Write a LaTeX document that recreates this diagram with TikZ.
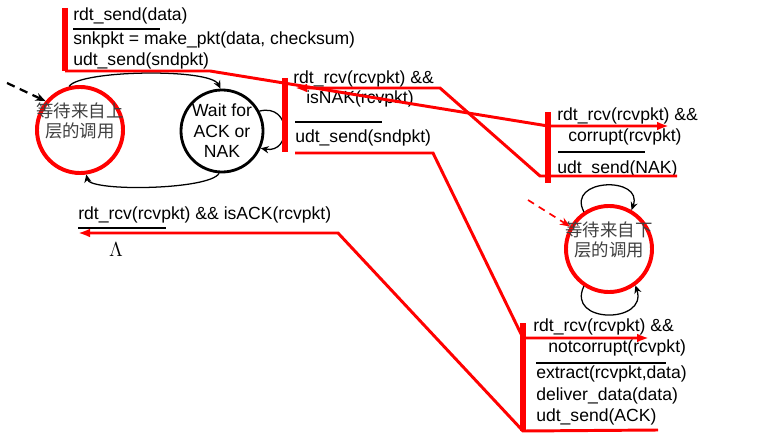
\documentclass[tikz,border=0pt]{standalone}
\usepackage{fontspec}
\setmainfont{Liberation Sans}
\newfontfamily\cjk{Noto Sans CJK SC}
\usetikzlibrary{arrows.meta,positioning,calc}

\begin{document}
\begin{tikzpicture}[x=0.025cm, y=-0.025cm,
  fsm/.style={draw, circle, inner sep=0pt, align=center, font=\fontsize{12.5}{14.6}\selectfont},
  cjktxt/.style={align=center, text=black!75, inner sep=0pt, font=\cjk\fontsize{12.4}{14}\selectfont},
  lbl/.style={anchor=west, inner sep=0pt, text height=0.75em, text depth=0.2em, font=\fontsize{12.5}{14.6}\selectfont},
  rule/.style={line width=2pt},
  loop/.style={->, >={Stealth[length=2mm,width=1.8mm]}, line width=0.9pt},
  hl/.style={red, line width=2.1pt, line join=miter},
  hlarr/.style={hl, -{Latex[length=3mm,width=2.2mm]}},
  redbar/.style={red, line width=4.3pt}
]
\useasboundingbox (0,0) rectangle (757,440);

\node[fsm, draw=red, line width=2.8pt, minimum size=2.15cm] (waitUp) at (80,130) {};
\node[cjktxt] (waitUpTxt) at (80,121) {等待来自上\\层的调用};
\node[fsm, line width=2pt, minimum size=2.05cm] (waitAck) at (222,131) {Wait for\\ACK or\\NAK};
\node[fsm, draw=red, line width=2.8pt, minimum size=2.15cm] (waitDown) at (609,249) {};
\node[cjktxt] (waitDownTxt) at (609,240) {等待来自下\\层的调用};

\coordinate (initUp) at (7,83);
\coordinate (initDown) at (528,200);
\draw[->, >={Stealth[length=2.5mm,width=2mm]}, line width=1.6pt, dash pattern=on 6pt off 4pt] (initUp) -- (waitUp.140);
\draw[->, >={Stealth[length=2.5mm,width=2mm]}, red, line width=1.2pt, dash pattern=on 5pt off 4pt] (initDown) -- (waitDown.150);

\draw[loop] (waitUp.104) .. controls (80,70) and (210,68) .. (waitAck.92);
\draw[loop] (waitAck.266) .. controls (210,190) and (90,192) .. (waitUp.-82);
\draw[loop] (waitAck.28) .. controls (292,103) and (292,154) .. (waitAck.-24);
\draw[loop] (waitDown.124) .. controls (566,178) and (644,176) .. (waitDown.60);
\draw[loop] (waitDown.-124) .. controls (566,324) and (648,324) .. (waitDown.-54);

\node[lbl] (sendEv) at (73,17) {rdt\_send(data)};
\draw[rule] (73,29) -- (160,29);
\node[lbl] (sendAct1) at (73,41) {snkpkt = make\_pkt(data, checksum)};
\node[lbl] (sendAct2) at (73,62) {udt\_send(sndpkt)};

\node[lbl] (nakEv1) at (293,80) {rdt\_rcv(rcvpkt) \&\&};
\node[lbl] (nakEv2) at (306,100) {isNAK(rcvpkt)};
\draw[rule] (295,122) -- (382,122);
\node[lbl] (nakAct) at (295,139) {udt\_send(sndpkt)};

\node[lbl] (ackEv) at (78,216) {rdt\_rcv(rcvpkt) \&\& isACK(rcvpkt)};
\draw[rule] (78,228) -- (166,228);
\node[anchor=center, inner sep=0pt, font=\fontsize{15}{17}\selectfont] (ackAct) at (116,250) {$\Lambda$};

\node[lbl] (corEv1) at (557,117) {rdt\_rcv(rcvpkt) \&\&};
\node[lbl] (corEv2) at (568,138) {corrupt(rcvpkt)};
\draw[rule] (558,152) -- (645,152);
\node[lbl] (corAct) at (557,170) {udt\_send(NAK)};

\node[lbl] (okEv1) at (533,328) {rdt\_rcv(rcvpkt) \&\&};
\node[lbl] (okEv2) at (548,349) {notcorrupt(rcvpkt)};
\draw[rule] (536,363) -- (666,363);
\node[lbl] (okAct1) at (536,375) {extract(rcvpkt,data)};
\node[lbl] (okAct2) at (536,397) {deliver\_data(data)};
\node[lbl] (okAct3) at (536,418) {udt\_send(ACK)};

\coordinate (barSendT) at (65,8);
\coordinate (barSendB) at (65,71);
\coordinate (barNakT) at (285,78);
\coordinate (barNakB) at (285,152);
\coordinate (barCorT) at (548,112);
\coordinate (barCorB) at (548,183);
\coordinate (barOkT) at (523,323);
\coordinate (barOkB) at (523,431);
\draw[redbar] (barSendT) -- (barSendB);
\draw[redbar] (barNakT) -- (barNakB);
\draw[redbar] (barCorT) -- (barCorB);
\draw[redbar] (barOkT) -- (barOkB);

\coordinate (p1a) at (210,71);
\coordinate (p1b) at (548,126);
\coordinate (p1c) at (669,126);
\draw[hlarr] (barSendB) -- (p1a) -- (p1b) -- (p1c);

\coordinate (p2a) at (677,176);
\coordinate (p2b) at (540,176);
\coordinate (p2c) at (440,88);
\coordinate (p2d) at (295,88);
\draw[hlarr] (p2a) -- (p2b) -- (p2c) -- (p2d);

\coordinate (p3a) at (295,153);
\coordinate (p3b) at (433,153);
\coordinate (p3c) at (523,338);
\coordinate (p3d) at (649,338);
\draw[hlarr] (p3a) -- (p3b) -- (p3c) -- (p3d);

\coordinate (p4a) at (658,430);
\coordinate (p4b) at (338,233);
\coordinate (p4c) at (78,233);
\draw[hlarr] (p4a) -- (barOkB) -- (p4b) -- (p4c);
\end{tikzpicture}
\end{document}
